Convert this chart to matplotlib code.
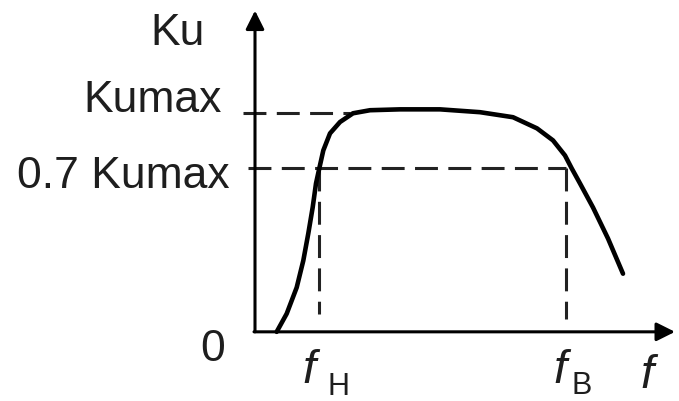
import matplotlib.pyplot as plt

# amplitude-frequency response (Ku relative to Kumax)
f = [0.217, 0.317, 0.417, 0.483, 0.533, 0.577, 0.61, 0.643, 0.683, 0.75,
     0.85, 0.98, 1.15, 1.45, 1.85, 2.25, 2.58, 2.82, 2.98, 3.10, 3.167,
     3.25, 3.38, 3.53, 3.68]
ku = [0.0, 0.083, 0.203, 0.326, 0.450, 0.570, 0.679, 0.748, 0.830, 0.908,
      0.960, 1.0, 1.014, 1.018, 1.018, 1.005, 0.982, 0.931, 0.876, 0.807,
      0.748, 0.679, 0.569, 0.427, 0.266]

kumax = 1.0
k07 = 0.748      # level drawn for 0.7 Kumax
f_low = 0.64     # f_H
f_high = 3.11    # f_B

plt.rcParams['font.family'] = ['Liberation Sans', 'DejaVu Sans']
txt = '#1e1e1e'

fig = plt.figure(figsize=(6.79, 4.01), dpi=100)
ax = fig.add_axes([0, 0, 1, 1])
ax.set_xlim(-2.55, 4.24)
ax.set_ylim(-69 / 218, 331 / 218)
ax.axis('off')

# axes with arrows
ax.annotate('', xy=(0, 1.47), xytext=(0, 0),
            arrowprops=dict(arrowstyle='-|>', lw=2.2, color='black',
                            mutation_scale=28, shrinkA=0, shrinkB=0))
ax.annotate('', xy=(4.2, 0), xytext=(-0.01, 0),
            arrowprops=dict(arrowstyle='-|>', lw=2.2, color='black',
                            mutation_scale=28, shrinkA=0, shrinkB=0))

# dashed guide lines
dash = (7.5, 3.4)
ax.plot([-0.12, 0.95], [kumax, kumax], color='#222222', lw=2.2, dashes=dash)
ax.plot([-0.07, f_high], [k07, k07], color='#222222', lw=2.2, dashes=dash)
ax.plot([f_low, f_low], [k07, 0.083], color='#222222', lw=2.2, dashes=dash)
ax.plot([f_high, f_high], [k07, 0.06], color='#222222', lw=2.2, dashes=dash)

# response curve
ax.plot(f, ku, color='black', lw=3.3, solid_capstyle='round',
        solid_joinstyle='round')

# labels
ax.text(-0.50, 1.312, 'Ku', fontsize=32, color=txt, ha='right', va='baseline')
ax.text(-0.33, 1.005, 'Kumax', fontsize=32, color=txt, ha='right', va='baseline')
ax.text(-0.25, 0.656, '0.7 Kumax', fontsize=32, color=txt, ha='right',
        va='baseline')
ax.text(-0.30, -0.133, '0', fontsize=32, color=txt, ha='right', va='baseline')

ax.text(0.47, -0.234, 'f', fontsize=34, style='italic', color=txt,
        ha='left', va='baseline')
ax.text(0.72, -0.29, 'Н', fontsize=22, color=txt, ha='left', va='baseline')
ax.text(2.98, -0.234, 'f', fontsize=34, style='italic', color=txt,
        ha='left', va='baseline')
ax.text(3.17, -0.285, 'В', fontsize=22, color=txt, ha='left', va='baseline')
ax.text(3.85, -0.257, 'f', fontsize=34, style='italic', color=txt,
        ha='left', va='baseline')

fig.savefig('out.png', dpi=100, facecolor='white')
